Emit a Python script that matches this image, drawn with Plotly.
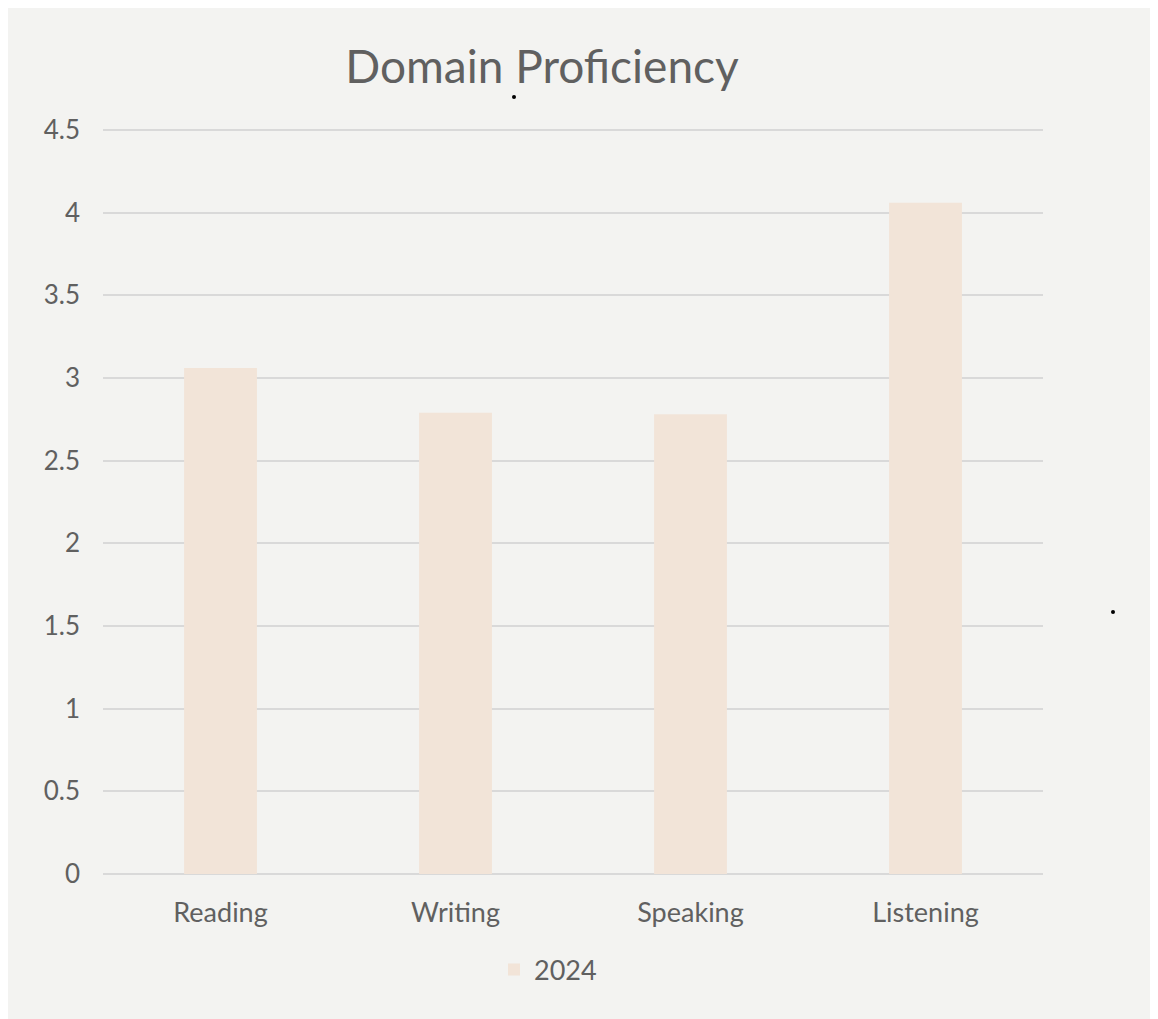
import plotly.graph_objects as go

categories = ["Reading", "Writing", "Speaking", "Listening"]
values_2024 = [3.06, 2.79, 2.78, 4.06]
y_ticks = [0, 0.5, 1, 1.5, 2, 2.5, 3, 3.5, 4, 4.5]
y_tick_labels = ["0", "0.5", "1", "1.5", "2", "2.5", "3", "3.5", "4", "4.5"]

W, H = 1158, 1019
OFF = 8  # page body margin
L, T = 103 - OFF, 120 - OFF
R = W - (1043 - OFF)
B = H - (874 - OFF)

FONT = "Lato, Open Sans, sans-serif"
GREY = "#606060"

fig = go.Figure()
fig.add_trace(go.Bar(
    x=categories, y=values_2024, name="2024",
    marker=dict(color="#f2e4d8", line=dict(width=0)),
    width=0.31,
))

fig.update_layout(
    width=W, height=H,
    margin=dict(l=L, r=R, t=T, b=B, autoexpand=False),
    paper_bgcolor="#f3f3f1",
    plot_bgcolor="rgba(0,0,0,0)",
    font=dict(family=FONT, color=GREY, size=26),
    title=dict(text="Domain Proficiency", x=(542 - OFF) / W, xanchor="center",
               y=1 - (67 - OFF) / H, yanchor="middle",
               font=dict(size=46, color=GREY, family=FONT)),
    showlegend=True,
    legend=dict(orientation="h", x=(548 - OFF) / W, xanchor="center", xref="container",
                y=1 - (970 - OFF) / H, yref="container", yanchor="middle",
                font=dict(size=27, color=GREY), bgcolor="rgba(0,0,0,0)"),
    xaxis=dict(showgrid=False, showline=False, ticks="", tickfont=dict(size=27, color=GREY),
               ticklabelstandoff=20),
    yaxis=dict(range=[0, 4.56], tickvals=y_ticks, ticktext=y_tick_labels,
               showgrid=True, gridcolor="#d9d9d9", gridwidth=1.5,
               zeroline=True, zerolinecolor="#d9d9d9", zerolinewidth=1.5,
               showline=False, ticks="", tickfont=dict(size=26, color=GREY),
               ticklabelstandoff=22),
    bargap=0.69,
)

# small black dots present in the reference
PW, PH = W - L - R, H - T - B
for (px, py) in [(514 - OFF, 97 - OFF), (1113 - OFF, 612 - OFF)]:
    fig.add_shape(type="circle", xref="paper", yref="paper",
                  x0=(px - 2 - L) / PW, x1=(px + 2 - L) / PW,
                  y0=1 - (py + 2 - T) / PH, y1=1 - (py - 2 - T) / PH,
                  fillcolor="black", line=dict(width=0))

fig.write_html("out.html")
